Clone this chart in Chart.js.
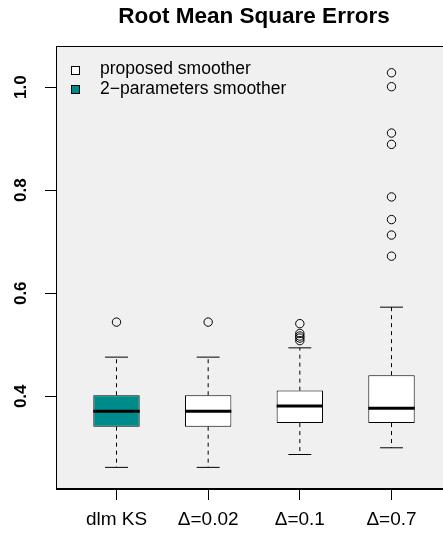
<!DOCTYPE html>
<html>
<head>
<meta charset="utf-8">
<script src="https://cdn.jsdelivr.net/npm/chart.js@4/dist/chart.umd.min.js"></script>
<style>
html,body{margin:0;padding:0;overflow:hidden;background:#ffffff;width:443px;height:540px;}
canvas{display:block;}
</style>
</head>
<body>
<canvas id="c" width="460" height="540"></canvas>
<script>
// ---------- data ----------
const categories   = ['dlm KS', 'Δ=0.02', 'Δ=0.1', 'Δ=0.7'];
const whiskerLow   = [0.262, 0.262, 0.287, 0.300];
const quartile1    = [0.341, 0.341, 0.348, 0.348];
const medians      = [0.371, 0.371, 0.381, 0.377];
const quartile3    = [0.402, 0.402, 0.411, 0.441];
const whiskerHigh  = [0.476, 0.476, 0.494, 0.573];
const outliers     = [
  [0.544],
  [0.544],
  [0.541, 0.522, 0.517, 0.513, 0.508],
  [1.028, 1.001, 0.911, 0.889, 0.787, 0.743, 0.713, 0.672]
];
const boxColors    = ['#008b8b', '#ffffff', '#ffffff', '#ffffff'];
const yTicks       = [0.4, 0.6, 0.8, 1.0];
const legendLabels = ['proposed smoother', '2\u2212parameters smoother'];
const legendColors = ['#ffffff', '#008b8b'];
const titleText    = 'Root Mean Square Errors';

// ---------- styles ----------
const FONT = '"Liberation Sans", Arial, Helvetica, sans-serif';
const capHalf = 0.125;   // half width of whisker caps (x units)
const medHalf = 0.253;   // half width of median bar (x units)

// ---------- datasets ----------
const datasets = [];
datasets.push({
  type: 'bar',
  order: 3,
  data: categories.map((c, i) => ({x: i + 1, y: [quartile1[i], quartile3[i]]})),
  backgroundColor: boxColors,
  borderColor: '#000000',
  borderWidth: 1,
  borderSkipped: false,
  barPercentage: 0.506,
  categoryPercentage: 1.0
});
categories.forEach((c, i) => {
  const x = i + 1;
  datasets.push({type: 'line', order: 2, data: [{x: x, y: quartile3[i]}, {x: x, y: whiskerHigh[i]}],
    borderColor: '#000', borderWidth: 1, borderDash: [4, 4], pointRadius: 0, fill: false});
  datasets.push({type: 'line', order: 2, data: [{x: x, y: quartile1[i]}, {x: x, y: whiskerLow[i]}],
    borderColor: '#000', borderWidth: 1, borderDash: [4, 4], pointRadius: 0, fill: false});
  datasets.push({type: 'line', order: 2, data: [{x: x - capHalf, y: whiskerHigh[i]}, {x: x + capHalf, y: whiskerHigh[i]}],
    borderColor: '#000', borderWidth: 1, pointRadius: 0, fill: false});
  datasets.push({type: 'line', order: 2, data: [{x: x - capHalf, y: whiskerLow[i]}, {x: x + capHalf, y: whiskerLow[i]}],
    borderColor: '#000', borderWidth: 1, pointRadius: 0, fill: false});
  datasets.push({type: 'line', order: 0, data: [{x: x - medHalf, y: medians[i]}, {x: x + medHalf, y: medians[i]}],
    borderColor: '#000', borderWidth: 3, pointRadius: 0, fill: false, borderCapStyle: 'butt'});
  datasets.push({type: 'line', order: 0, showLine: false,
    data: outliers[i].map(v => ({x: x, y: v})),
    pointRadius: 4.2, pointBorderWidth: 1, pointBorderColor: '#000', pointBackgroundColor: 'rgba(0,0,0,0)',
    pointStyle: 'circle'});
});

// ---------- plugins ----------
const plotFrame = {
  id: 'plotFrame',
  beforeDraw(chart) {
    const {ctx, chartArea: a} = chart;
    ctx.save();
    ctx.fillStyle = '#f0f0f0';
    ctx.fillRect(a.left, a.top, a.right - a.left, a.bottom - a.top);
    ctx.restore();
  },
  afterDraw(chart) {
    const {ctx, chartArea: a} = chart;
    ctx.save();
    ctx.strokeStyle = '#000';
    ctx.lineWidth = 1;
    ctx.strokeRect(Math.round(a.left) + 0.5, Math.round(a.top) + 0.5,
                   Math.round(a.right - a.left) - 1, Math.round(a.bottom - a.top) - 1);
    ctx.font = '17.5px ' + FONT;
    ctx.textBaseline = 'middle';
    ctx.textAlign = 'left';
    legendLabels.forEach((lab, i) => {
      const cy = a.top + 23.5 + i * 19.5;
      const bx = Math.round(a.left + 15) + 0.5;
      ctx.fillStyle = legendColors[i];
      ctx.fillRect(bx, Math.round(cy - 4) + 0.5, 8, 8);
      ctx.strokeStyle = '#000';
      ctx.strokeRect(bx, Math.round(cy - 4) + 0.5, 8, 8);
      ctx.fillStyle = '#000';
      ctx.fillText(lab, a.left + 44, cy);
    });
    ctx.restore();
  }
};

new Chart(document.getElementById('c'), {
  type: 'bar',
  data: {datasets: datasets},
  plugins: [plotFrame],
  options: {
    responsive: false,
    animation: false,
    events: [],
    layout: {padding: {left: 0, right: 8, top: 0, bottom: 0}},
    plugins: {
      legend: {display: false},
      tooltip: {enabled: false},
      title: {
        display: true,
        text: titleText,
        fullSize: false,
        color: '#000',
        font: {family: FONT, size: 22.5, weight: 'bold'},
        padding: {top: 3, bottom: 16}
      }
    },
    scales: {
      x: {
        type: 'linear',
        min: 0.34,
        max: 4.66,
        offset: false,
        afterBuildTicks: s => { s.ticks = categories.map((c, i) => ({value: i + 1})); },
        afterFit: s => { s.height = 51; },
        ticks: {
          callback: v => categories[Math.round(v) - 1],
          color: '#000',
          font: {family: FONT, size: 19},
          padding: 8,
          maxRotation: 0,
          minRotation: 0,
          autoSkip: false
        },
        grid: {display: true, offset: false, drawOnChartArea: false, drawTicks: true, tickLength: 11, color: '#000', tickColor: '#000', tickWidth: 1},
        border: {display: true, color: '#000', width: 1}
      },
      y: {
        type: 'linear',
        min: 0.22,
        max: 1.08,
        afterBuildTicks: s => { s.ticks = yTicks.map(v => ({value: v})); },
        afterFit: s => { s.width = 56; },
        ticks: {
          callback: v => Number(v).toFixed(1),
          color: '#000',
          font: {family: FONT, size: 17, weight: 'bold'},
          padding: 12,
          minRotation: 90,
          maxRotation: 90,
          crossAlign: 'center',
          autoSkip: false
        },
        grid: {display: true, offset: false, drawOnChartArea: false, drawTicks: true, tickLength: 11, color: '#000', tickColor: '#000', tickWidth: 1},
        border: {display: true, color: '#000', width: 1}
      }
    }
  }
});
</script>
</body>
</html>
